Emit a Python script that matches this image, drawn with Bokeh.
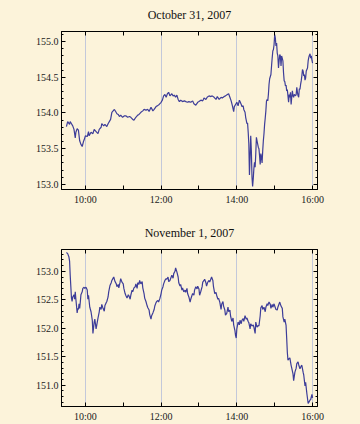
from bokeh.plotting import figure
from bokeh.models import (Range1d, LinearAxis, FixedTicker, SingleIntervalTicker, Grid,
                          NumeralTickFormatter, CustomJSTickFormatter)
from bokeh.layouts import column
from bokeh.embed import file_html
from bokeh.resources import INLINE

BG = "#FCF3DA"
LINE = "#3D3D99"
GRID = "#C3C8DA"
FONT = "Liberation Serif"

# minutes after midnight
oct_times = [570,572,575,576,578,580,582,584,585,587,589,591,593,595,597,598,600,603,605,606,609,612,614,617,620,622,625,626,629,631,634,636,640,642,644,646,648,650,652,654,656,659,662,664,667,670,672,675,677,680,683,685,688,691,693,696,699,701,704,707,709,712,714,717,720,722,724,726,728,730,732,734,737,739,741,743,745,747,749,751,754,757,759,762,764,767,770,772,775,778,780,783,786,788,791,793,796,799,801,804,807,809,812,815,817,820,822,825,827,829,831,833,835,836,838,840,842,844,845,847,848,850,851,853,854,856,857,858,859,860,861,862,863,864,865,866,867,868,869,870,871,872,874,875,876,877,878,879,880,881,882,883,884,885,886,887,888,889,890,891,892,894,895,896,897,898,899,900,901,902,903,904,905,906,907,908,909,910,911,913,914,915,916,917,918,919,920,921,922,923,924,925,926,927,928,929,930,931,933,934,935,936,937,938,939,940,941,942,943,944,945,946,947,948,949,950,952,953,954,955,956,957,958,959,960]
oct_prices = [153.81,153.88,153.84,153.88,153.85,153.82,153.77,153.65,153.73,153.78,153.76,153.61,153.56,153.53,153.60,153.62,153.68,153.67,153.74,153.68,153.73,153.71,153.77,153.74,153.71,153.77,153.80,153.85,153.82,153.84,153.81,153.85,153.91,154.01,154.03,154.05,154.02,153.99,153.98,153.95,153.97,153.94,153.96,153.96,153.94,153.95,153.94,153.91,153.90,153.94,153.97,153.98,154.01,154.03,154.05,154.04,154.05,154.02,154.08,154.03,154.05,154.09,154.10,154.12,154.15,154.18,154.24,154.26,154.22,154.27,154.29,154.24,154.27,154.24,154.25,154.22,154.25,154.19,154.16,154.18,154.16,154.17,154.16,154.15,154.16,154.15,154.17,154.13,154.11,154.15,154.16,154.18,154.17,154.21,154.19,154.22,154.24,154.23,154.24,154.22,154.19,154.23,154.19,154.22,154.21,154.23,154.24,154.26,154.27,154.22,154.17,154.10,154.02,154.09,154.12,154.15,154.10,154.18,154.16,154.12,154.09,154.10,154.05,154.01,153.94,153.85,153.86,153.73,153.57,153.13,153.38,153.68,153.47,153.10,152.97,153.08,153.22,153.31,153.24,153.43,153.66,153.61,153.52,153.50,153.40,153.28,153.43,153.38,153.30,153.47,153.61,153.71,153.84,153.93,154.03,154.17,154.19,154.17,154.26,154.40,154.48,154.54,154.66,154.77,154.87,154.89,154.96,155.10,155.05,154.94,154.98,154.84,154.80,154.63,154.73,154.82,154.80,154.66,154.80,154.73,154.56,154.45,154.44,154.38,154.39,154.31,154.33,154.24,154.15,154.26,154.22,154.29,154.12,154.22,154.31,154.24,154.22,154.26,154.24,154.26,154.36,154.29,154.24,154.22,154.34,154.33,154.40,154.45,154.52,154.61,154.59,154.52,154.54,154.46,154.49,154.59,154.63,154.73,154.78,154.81,154.83,154.77,154.80,154.74,154.70]

nov_times = [570,572,574,575,576,577,578,579,580,582,583,584,585,586,587,588,589,590,591,592,593,595,596,598,599,601,603,604,605,607,609,611,612,614,615,617,618,620,622,623,625,626,628,630,631,633,634,636,637,639,641,642,644,645,647,649,650,652,653,655,656,658,660,661,663,664,666,668,669,671,672,674,675,677,679,680,682,683,685,686,688,690,691,693,694,696,698,699,701,702,704,705,707,709,710,712,713,715,716,718,720,721,723,724,726,728,729,731,732,734,735,737,739,740,742,743,745,747,748,750,751,753,754,756,758,759,761,762,764,766,767,769,770,772,773,775,777,778,780,781,783,785,786,788,789,791,792,794,796,797,799,800,802,803,805,807,808,810,811,813,815,816,818,819,821,822,824,826,827,829,830,832,834,835,837,838,839,840,842,844,845,847,848,850,851,853,855,856,858,859,861,862,864,866,867,869,870,872,874,875,877,878,880,881,883,885,886,888,889,891,893,894,896,897,899,900,902,904,905,907,908,910,912,913,915,916,918,919,920,921,923,924,926,927,929,930,932,934,935,937,938,940,942,943,945,946,948,949,951,953,954,956,957,959,960]
nov_prices = [153.33,153.31,153.25,153.18,152.93,152.73,152.53,152.47,152.55,152.59,152.51,152.64,152.51,152.39,152.27,152.35,152.33,152.43,152.35,152.46,152.59,152.64,152.70,152.72,152.70,152.72,152.67,152.51,152.58,152.37,152.29,152.14,151.91,152.11,152.16,151.99,152.05,152.18,152.29,152.37,152.33,152.42,152.35,152.30,152.40,152.45,152.47,152.55,152.64,152.75,152.80,152.84,152.88,152.90,152.82,152.78,152.73,152.77,152.71,152.81,152.87,152.81,152.78,152.70,152.61,152.58,152.53,152.59,152.57,152.51,152.58,152.67,152.64,152.71,152.73,152.78,152.70,152.80,152.77,152.84,152.78,152.82,152.71,152.61,152.53,152.47,152.39,152.36,152.32,152.24,152.16,152.22,152.27,152.33,152.39,152.45,152.47,152.49,152.46,152.52,152.61,152.67,152.73,152.78,152.84,152.87,152.86,152.90,152.82,152.84,152.87,152.93,152.88,152.96,153.00,153.06,152.99,152.90,152.80,152.74,152.77,152.67,152.71,152.64,152.67,152.63,152.70,152.61,152.55,152.46,152.51,152.58,152.61,152.58,152.67,152.73,152.69,152.74,152.69,152.58,152.65,152.73,152.81,152.84,152.86,152.80,152.74,152.81,152.84,152.81,152.87,152.90,152.84,152.73,152.61,152.63,152.58,152.51,152.53,152.46,152.33,152.42,152.47,152.39,152.32,152.23,152.26,152.37,152.29,152.32,152.22,152.12,152.18,152.06,151.96,151.87,151.83,151.99,152.11,152.06,152.14,152.08,152.14,152.17,152.12,152.22,152.16,152.18,152.12,152.10,151.99,152.08,152.04,152.06,152.02,151.91,152.11,152.02,152.05,152.04,152.22,152.36,152.40,152.33,152.37,152.29,152.37,152.43,152.40,152.46,152.42,152.35,152.42,152.37,152.43,152.39,152.33,152.32,152.37,152.43,152.46,152.39,152.35,152.20,152.11,152.16,152.05,151.82,151.58,151.44,151.47,151.48,151.35,151.30,151.20,151.08,151.23,151.30,151.38,151.41,151.36,151.29,151.34,151.35,151.23,151.18,150.99,151.05,150.85,150.68,150.70,150.74,150.75,150.84,150.78]

hour_ticks = [600, 660, 720, 780, 840, 900, 960]
grid_ticks = [600, 720, 840, 960]
hour_labels = {600: "10:00", 660: "", 720: "12:00", 780: "", 840: "14:00", 900: "", 960: "16:00"}
titles = ["October 31, 2007", "November 1, 2007"]


def style_axis(ax, show_labels):
    ax.axis_line_color = "black"
    ax.major_tick_line_color = "black"
    ax.minor_tick_line_color = "black"
    ax.major_tick_in = 4
    ax.major_tick_out = 0
    ax.minor_tick_in = 2
    ax.minor_tick_out = 0
    ax.major_label_text_font = FONT
    ax.major_label_text_color = "#1a1a1a"
    if show_labels:
        ax.major_label_text_font_size = "10px"
    else:
        ax.formatter = CustomJSTickFormatter(code="return '';")
        ax.major_label_text_font_size = "1px"
        ax.major_label_standoff = 0


def make(title, t, y, height, btop, bbot):
    lo, hi = min(y), max(y)
    pad = (hi - lo) * 0.02
    tpad = (max(t) - min(t)) * 0.02
    p = figure(width=360, height=height, output_backend="svg", toolbar_location=None,
               x_range=Range1d(min(t) - tpad, max(t) + tpad),
               y_range=Range1d(lo - pad, hi + pad),
               x_axis_type=None, y_axis_type=None,
               min_border_left=61, min_border_right=43,
               min_border_top=btop, min_border_bottom=bbot,
               background_fill_color=BG, border_fill_color=BG,
               outline_line_color="black", title=title)
    p.title.align = "center"
    p.title.vertical_align = "top"
    p.title.text_font = FONT
    p.title.text_font_style = "normal"
    p.title.text_font_size = "12px"
    p.title.text_color = "#111111"
    p.title.standoff = 15

    p.add_layout(Grid(dimension=0, ticker=FixedTicker(ticks=grid_ticks),
                      grid_line_color=GRID, grid_line_width=1))

    for side, show in (("below", True), ("above", False)):
        ax = LinearAxis(ticker=FixedTicker(ticks=hour_ticks, minor_ticks=[]))
        if show:
            ax.major_label_overrides = hour_labels
        style_axis(ax, show)
        if show:
            ax.major_label_standoff = 4
        p.add_layout(ax, side)
    for side, show in (("left", True), ("right", False)):
        ax = LinearAxis(ticker=SingleIntervalTicker(interval=0.5, num_minor_ticks=5),
                        formatter=NumeralTickFormatter(format="0.0"))
        style_axis(ax, show)
        if show:
            ax.major_label_standoff = 3
        p.add_layout(ax, side)

    p.line(t, y, line_color=LINE, line_width=1.2)
    return p


p1 = make(titles[0], oct_times, oct_prices, 218, 30, 29)
p2 = make(titles[1], nov_times, nov_prices, 206, 30, 17)
layout = column(p1, p2, spacing=0, styles={"background-color": BG})

html = file_html(layout, INLINE)
html = html.replace("</head>",
                    "<style>html, body { margin: 0; padding: 0; background-color: %s; }</style></head>" % BG, 1)
open("out.html", "w").write(html)
